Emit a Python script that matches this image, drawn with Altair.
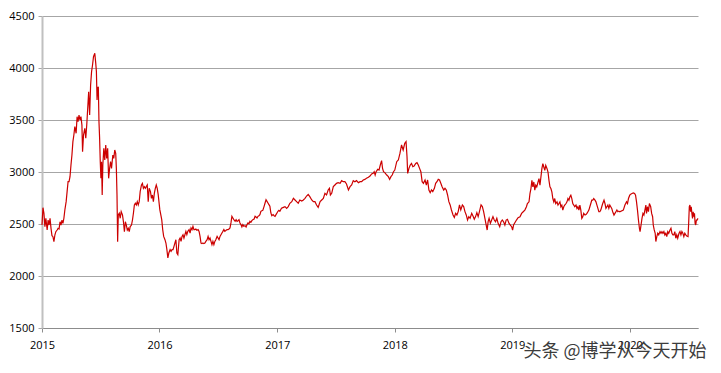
import altair as alt
import pandas as pd

# Day offsets since 2015-01-01 and index values
DAYS = [
    0, 3, 6, 9, 12, 16, 19, 22, 25, 28, 31, 34, 37, 40, 43, 47, 50, 53, 56, 59, 62, 65, 68, 71, 75, 78, 81, 84, 87, 90,
    93, 96, 99, 102, 106, 109, 112, 115, 118, 121, 124, 126, 129, 133, 136, 139, 142, 145, 148, 151, 154, 157, 160, 164,
    167, 169, 171, 173, 175, 177, 179, 181, 183, 185, 187, 189, 192, 195, 198, 201, 204, 207, 210, 213, 216, 220, 223,
    226, 229, 231, 233, 235, 237, 240, 243, 246, 250, 253, 256, 259, 262, 265, 268, 271, 274, 278, 281, 284, 287, 290,
    293, 296, 299, 302, 305, 309, 312, 315, 318, 321, 324, 327, 330, 333, 337, 340, 343, 346, 349, 352, 355, 358,
    361, 366, 372, 375, 378, 382, 385, 388, 391, 394, 398, 401, 404, 407, 410, 413, 416, 419, 422, 426, 429, 432, 435,
    438, 441, 444, 447, 450, 453, 457, 460, 463, 466, 469, 472, 475, 478, 481, 485, 488, 491, 494, 497, 500, 503, 506,
    509, 513, 516, 519, 522, 525, 528, 531, 534, 537, 540, 544, 547, 550, 553, 556, 559, 562, 565, 568, 572, 575, 578,
    581, 584, 587, 590, 593, 596, 600, 603, 606, 609, 612, 615, 618, 621, 624, 627, 631, 634, 637, 640, 643, 646, 649,
    652, 655, 659, 662, 665, 668, 671, 674, 677, 680, 683, 686, 690, 693, 696, 699, 702, 705, 708, 711, 714, 718, 721,
    724, 727, 730, 733, 736, 739,
    744, 750, 755, 760, 765, 770, 776, 781, 786, 791, 796, 801, 807, 812, 817, 822, 827, 832, 838, 843, 848, 853, 858,
    864, 869, 874, 879, 884, 889, 893, 896, 900, 905, 910, 915, 920, 926, 931, 936, 941, 946, 952, 957, 962, 967, 972,
    977, 983, 988, 993, 998, 1003, 1008, 1014, 1019, 1024, 1029, 1032, 1035, 1038, 1043, 1047, 1051, 1055, 1058, 1061,
    1065, 1071, 1076, 1080, 1084, 1088, 1092,
    1096, 1102, 1107, 1112, 1117, 1122, 1127, 1131, 1134, 1136, 1140, 1144, 1148, 1152, 1156, 1161, 1165, 1169, 1173,
    1177, 1181, 1185, 1190, 1194, 1198, 1202, 1206, 1210, 1214, 1219, 1223, 1227, 1231, 1235, 1239, 1243, 1248, 1252,
    1256, 1260, 1264, 1268, 1272, 1277, 1281, 1285, 1289, 1293, 1297, 1301, 1306, 1310, 1314, 1318, 1322, 1326, 1330,
    1335, 1339, 1343, 1347, 1351, 1355, 1359, 1364, 1368, 1372, 1376, 1380, 1383, 1386, 1389, 1393, 1397, 1401, 1405,
    1409, 1413, 1417, 1422, 1426, 1430, 1434, 1438, 1442, 1446, 1451, 1455, 1459, 1462, 1465,
    1474, 1479, 1485, 1490, 1495, 1500, 1505, 1508, 1513, 1516, 1519, 1522, 1525, 1528, 1531, 1534, 1537, 1541, 1544,
    1547, 1550, 1553, 1556, 1559, 1562, 1565, 1569, 1572, 1575, 1578, 1581, 1584, 1587, 1590, 1593, 1596, 1600, 1603,
    1606, 1609, 1612, 1615, 1618, 1621, 1624, 1628, 1631, 1634, 1637, 1640, 1643, 1646, 1649, 1652, 1655, 1659, 1662,
    1665, 1668, 1671, 1674, 1677, 1680, 1683, 1687, 1690, 1693, 1696, 1699, 1702, 1705, 1708, 1711, 1714, 1718, 1721,
    1724, 1727, 1730, 1733, 1736, 1739, 1742, 1746, 1749, 1752, 1755, 1758, 1761, 1764, 1767, 1770, 1773, 1777, 1780,
    1783, 1786, 1789, 1792,
    1795, 1806, 1811, 1816, 1819, 1822, 1826, 1829, 1833, 1837, 1841, 1844, 1847, 1850, 1853, 1856, 1858, 1861, 1864,
    1867, 1870, 1873, 1876, 1878, 1881, 1884, 1887, 1891, 1894, 1897, 1899, 1902, 1905, 1907, 1910, 1913, 1916, 1920,
    1923, 1926, 1929, 1932, 1935, 1938, 1941, 1944, 1947, 1951, 1954, 1957, 1960, 1963, 1966, 1969, 1972, 1975, 1979,
    1982, 1985, 1988, 1991, 1994, 1997, 2000, 2003, 2007, 2009, 2011, 2013, 2015, 2017, 2019, 2021, 2023, 2025, 2027,
    2029, 2031, 2033, 2035, 2038,
]

VALUES = [
    2490, 2657, 2603, 2475, 2555, 2442, 2538, 2490, 2555, 2458, 2388, 2378, 2330, 2394, 2426, 2442, 2458, 2452, 2522,
    2490, 2538, 2506, 2555, 2635, 2715, 2811, 2907, 2907, 2955, 3067, 3163, 3292, 3356, 3436, 3372, 3532, 3484, 3548,
    3500, 3532, 3452, 3196, 3356, 3420, 3324, 3452, 3612, 3772, 3548, 3837, 3965, 4029, 4109, 4141, 4045, 3965, 3692,
    3804, 3820, 3484, 3324, 3099, 2939, 3099, 2779, 3067, 3228, 3115, 3260, 3131, 3228, 2939, 3035, 3099, 3035, 3163,
    3131, 3212, 3180, 3035, 2779, 2330, 2587, 2603, 2555, 2619, 2587, 2522, 2426, 2522, 2490, 2442, 2458, 2426, 2475,
    2490, 2538, 2603, 2683, 2699, 2683, 2715, 2683, 2715, 2811, 2875, 2891, 2843, 2859, 2843, 2859, 2875, 2715, 2843,
    2811, 2747, 2779, 2715, 2795, 2843, 2875, 2843,
    2782, 2638, 2542, 2446, 2381, 2349, 2317, 2253, 2173, 2221, 2253, 2237, 2253, 2253, 2285, 2317, 2349, 2221, 2205,
    2349, 2365, 2333, 2381, 2397, 2365, 2397, 2429, 2397, 2429, 2446, 2413, 2462, 2446, 2478, 2446, 2446, 2452, 2440,
    2446, 2429, 2381, 2317, 2311, 2317, 2311, 2317, 2333, 2349, 2381, 2349, 2365, 2333, 2301, 2333, 2301, 2333, 2349,
    2381, 2365, 2349, 2381, 2397, 2413, 2429, 2446, 2429, 2440, 2446, 2446, 2452, 2462, 2510, 2574, 2558, 2542, 2526,
    2542, 2526, 2532, 2542, 2510, 2494, 2471, 2494, 2478, 2484, 2471, 2494, 2510, 2503, 2526, 2516, 2532, 2542, 2548,
    2574, 2567, 2558, 2574, 2580, 2590, 2622, 2628, 2631, 2670, 2702, 2734, 2718, 2702, 2686, 2670, 2606, 2580, 2590,
    2580, 2574, 2590, 2606, 2622, 2631, 2622,
    2651, 2660, 2667, 2651, 2667, 2699, 2715, 2747, 2731, 2715, 2699, 2731, 2721, 2731, 2747, 2769, 2785, 2763, 2731,
    2715, 2715, 2683, 2660, 2715, 2731, 2747, 2795, 2779, 2827, 2843, 2779, 2795, 2859, 2875, 2891, 2897, 2891, 2917,
    2907, 2907, 2885, 2827, 2859, 2875, 2917, 2907, 2917, 2897, 2907, 2907, 2923, 2929, 2939, 2949, 2961, 2981, 2987,
    3003, 2971, 3003, 3026, 3019, 3067, 3109, 3035, 3003, 2994, 2971, 2955, 2929, 2955, 2971, 3003,
    3019, 3099, 3115, 3179, 3260, 3212, 3276, 3292, 3147, 2987, 3035, 3067, 3083, 3051, 3057, 3083, 3090, 3067, 3035,
    3003, 2907, 2891, 2923, 2875, 2923, 2827, 2801, 2827, 2811, 2843, 2891, 2907, 2929, 2923, 2891, 2859, 2827, 2843,
    2827, 2779, 2715, 2683, 2635, 2587, 2564, 2603, 2587, 2619, 2683, 2635, 2683, 2667, 2619, 2587, 2538, 2571, 2555,
    2603, 2577, 2545, 2571, 2609, 2571, 2619, 2683, 2667, 2619, 2555, 2490, 2442, 2522, 2555, 2506, 2538, 2571, 2538,
    2522, 2555, 2506, 2474, 2522, 2538, 2522, 2490, 2538, 2545, 2506, 2490, 2474, 2442, 2490,
    2538, 2560, 2570, 2602, 2618, 2634, 2666, 2697, 2713, 2793, 2841, 2920, 2857, 2904, 2825, 2873, 2857, 2904, 2936,
    2873, 2952, 3032, 3080, 3048, 3016, 3064, 3032, 3000, 2920, 2857, 2841, 2809, 2745, 2713, 2745, 2697, 2713, 2682,
    2697, 2713, 2666, 2682, 2634, 2666, 2682, 2697, 2713, 2745, 2729, 2761, 2777, 2745, 2697, 2682, 2666, 2682, 2650,
    2666, 2634, 2682, 2634, 2554, 2570, 2602, 2586, 2592, 2602, 2618, 2634, 2666, 2697, 2729, 2729, 2745, 2729, 2713,
    2682, 2650, 2618, 2618, 2634, 2666, 2697, 2729, 2697, 2650, 2666, 2682, 2650, 2682, 2666, 2650, 2618, 2586, 2602,
    2618, 2634, 2618, 2624,
    2618, 2634, 2682, 2713, 2697, 2745, 2777, 2787, 2793, 2799, 2793, 2777, 2713, 2634, 2538, 2459, 2427, 2490, 2554,
    2602, 2586, 2634, 2682, 2602, 2666, 2618, 2697, 2666, 2602, 2570, 2490, 2443, 2411, 2331, 2379, 2411, 2395, 2427,
    2411, 2427, 2411, 2427, 2395, 2411, 2379, 2427, 2411, 2443, 2459, 2411, 2395, 2395, 2427, 2363, 2395, 2363, 2411,
    2427, 2395, 2427, 2411, 2379, 2411, 2395, 2385, 2379, 2506, 2666, 2682, 2618, 2666, 2602, 2554, 2618, 2570, 2602,
    2506, 2490, 2538, 2538, 2554,
]

YEAR_TICKS = [2015, 2016, 2017, 2018, 2019, 2020]
Y_TICKS = [1500, 2000, 2500, 3000, 3500, 4000, 4500]
WATERMARK = ["头条 @博学从今天开始"]

df = pd.DataFrame({
    "date": pd.Timestamp("2015-01-01") + pd.to_timedelta(DAYS, unit="D"),
    "value": VALUES,
})

x_enc = alt.X(
    "date:T",
    scale=alt.Scale(domain=[alt.DateTime(year=2015, month=1, date=1),
                            alt.DateTime(year=2020, month=7, date=31)]),
    axis=alt.Axis(
        values=[alt.DateTime(year=y, month=1, date=1) for y in YEAR_TICKS],
        format="%Y", title=None, grid=False, labelFlush=False,
        domainColor="#8c8c8c", domainWidth=1,
        tickColor="#8c8c8c", tickSize=4, labelPadding=7,
        labelFont="Open Sans", labelFontSize=11, labelColor="#000000",
        labelAngle=0, labelAlign="center",
    ),
)
y_enc = alt.Y(
    "value:Q",
    scale=alt.Scale(domain=[1500, 4500], nice=False, zero=False),
    axis=alt.Axis(
        values=Y_TICKS, title=None, grid=True, format="d", labelFlush=False,
        gridColor="#a6a6a6", gridWidth=1,
        domainColor="#c0c0c0", domainWidth=2,
        tickColor="#a6a6a6", tickSize=4, labelPadding=4,
        labelFont="Open Sans", labelFontSize=11, labelColor="#000000",
    ),
)

line = alt.Chart(df).mark_line(color="#cc0000", strokeWidth=1.2).encode(x=x_enc, y=y_enc)

wm = alt.Chart(pd.DataFrame({"t": WATERMARK})).mark_text(
    font="Noto Sans CJK SC", fontSize=18, color="#3c3c3c",
    align="center", baseline="middle",
).encode(text="t:N", x=alt.value(573), y=alt.value(336))

chart = alt.layer(line, wm).properties(
    width=656, height=312,
    autosize=alt.AutoSizeParams(type="none"),
    padding={"left": 34, "top": 8, "right": 15, "bottom": 37},
).configure_view(stroke=None)

chart.save("out.html", embed_options={"renderer": "svg", "actions": False})
